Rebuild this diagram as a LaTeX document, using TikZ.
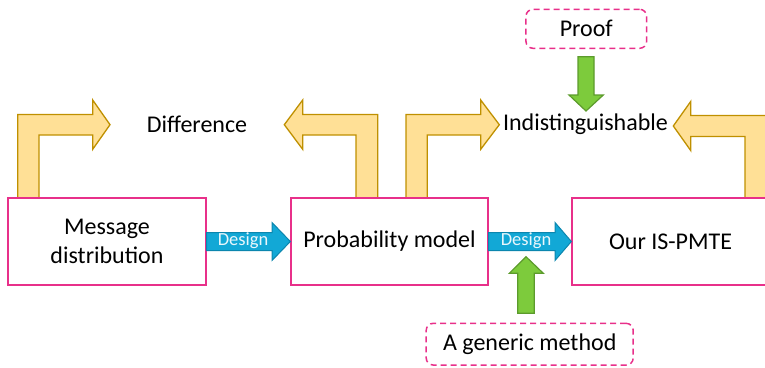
\documentclass[tikz,border=0pt]{standalone}
\usepackage{fontspec}
\setmainfont{Carlito}
\definecolor{boxpink}{HTML}{E8308A}
\definecolor{goldfill}{HTML}{FFE096}
\definecolor{goldline}{HTML}{BF9000}
\definecolor{bluefill}{HTML}{12A8D6}
\definecolor{blueline}{HTML}{0B86AE}
\definecolor{greenfill}{HTML}{7DCB3C}
\definecolor{greenline}{HTML}{5C9B2C}
\definecolor{designtxt}{HTML}{EAF7FC}
\tikzset{
  stagebox/.style={draw=boxpink, line width=1.3pt, minimum height=87pt, inner sep=0pt, align=center, font=\fontsize{24}{28.5}\selectfont},
  notebox/.style={draw=boxpink, line width=1.5pt, dash pattern=on 6pt off 4pt, rounded corners=7pt, inner sep=0pt, font=\fontsize{24}{28}\selectfont},
  label/.style={inner sep=0pt, font=\fontsize{24}{28}\selectfont},
  goldarrow/.style={fill=goldfill, draw=goldline, line width=1.3pt, line join=miter},
  bluearrow/.style={fill=bluefill, draw=blueline, line width=1pt},
  greenarrow/.style={fill=greenfill, draw=greenline, line width=1.2pt},
  designlbl/.style={inner sep=0pt, text=designtxt, font=\fontsize{18.5}{20}\selectfont},
}
\begin{document}
\begin{tikzpicture}[x=1pt, y=-1pt]
\useasboundingbox (0,0) rectangle (765,367);

% bent feedback arrows
\draw[goldarrow] (17.7,198) -- (17.7,114.5) -- (92.7,114.5) -- (92.7,100) -- (110,124.7)
  -- (92.7,149.3) -- (92.7,135) -- (39,135) -- (39,198) -- cycle;
\draw[goldarrow] (377.7,198) -- (377.7,114.5) -- (302.7,114.5) -- (302.7,100) -- (284.3,124.7)
  -- (302.7,149.3) -- (302.7,135) -- (356,135) -- (356,198) -- cycle;
\draw[goldarrow] (406,198) -- (406,114.5) -- (480.7,114.5) -- (480.7,100) -- (499.3,124.7)
  -- (480.7,149.3) -- (480.7,135) -- (427.3,135) -- (427.3,198) -- cycle;
\draw[goldarrow] (767,198) -- (767,115.5) -- (690.7,115.5) -- (690.7,101.5) -- (673.3,126)
  -- (690.7,150.5) -- (690.7,136.5) -- (745,136.5) -- (745,198) -- cycle;

% stages
\node[stagebox, minimum width=198pt] (msg) at (107,241.5) {Message\\distribution};
\node[stagebox, minimum width=197pt] (prob) at (389.5,241.5) {Probability model};
\node[stagebox, minimum width=197pt] (our) at (670.5,241.5) {Our IS-PMTE};

% outcome labels
\node[label] (diff) at (197,124) {Difference};
\node[label] (indist) at (585.5,124) {Indistinguishable};

% side notes
\node[notebox, minimum width=120.7pt, minimum height=39pt] (proof) at (586.3,28.8) {Proof};
\node[notebox, minimum width=207pt, minimum height=41.7pt] (generic) at (529.7,344.2) {A generic method};

% design arrows
\draw[bluearrow] (msg.east |- 0,232.5) -- (272,232.5) -- (272,222.5) -- (prob.west)
  -- (272,260.5) -- (272,250.5) -- (msg.east |- 0,250.5) -- cycle;
\node[designlbl] (d1) at (243,240.5) {Design};
\draw[bluearrow] (prob.east |- 0,232.5) -- (555,232.5) -- (555,222.5) -- (our.west)
  -- (555,260.5) -- (555,250.5) -- (prob.east |- 0,250.5) -- cycle;
\node[designlbl] (d2) at (526,240.5) {Design};

% supporting arrows
\draw[greenarrow] (578,56.7) -- (594,56.7) -- (594,95) -- (603.3,95) -- (586,111)
  -- (569,95) -- (578,95) -- cycle;
\draw[greenarrow] (517.7,313.3) -- (534.3,313.3) -- (534.3,273.3) -- (543.3,273.3) -- (526,256.7)
  -- (509.3,273.3) -- (517.7,273.3) -- cycle;
\end{tikzpicture}
\end{document}
